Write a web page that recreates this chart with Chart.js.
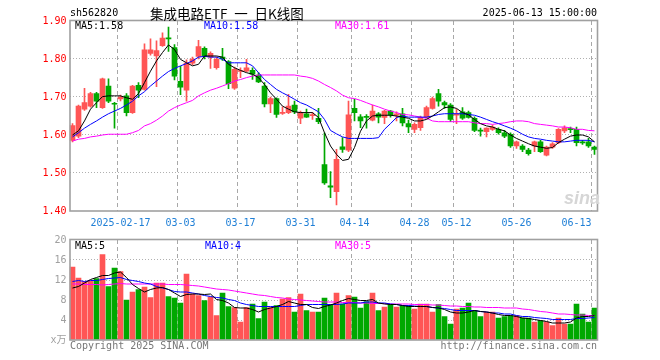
<!DOCTYPE html>
<html><head><meta charset="utf-8">
<script src="https://cdn.jsdelivr.net/npm/chart.js@4.4.1/dist/chart.umd.min.js"></script>
<style>
body{margin:0;background:#fff;width:660px;height:360px;overflow:hidden;position:relative;font-family:"DejaVu Sans Mono",monospace;}
canvas{position:absolute;left:0;}
.t{position:absolute;font-size:10px;line-height:12px;height:12px;white-space:pre;font-family:"DejaVu Sans Mono","Noto Sans CJK SC",monospace;}
</style></head><body>
<canvas id="pc" width="660" height="230" style="top:0"></canvas>
<canvas id="vc" width="660" height="130" style="top:230px"></canvas>
<div class="t" style="left:70px;top:7px;color:#000">sh562820</div>
<div class="t" style="left:150px;top:5px;height:16px;line-height:16px;font-size:13.5px;font-family:'Noto Sans CJK SC',sans-serif;color:#000">集成电路ETF&ensp;一&ensp;日K线图</div>
<div class="t" style="right:63px;top:7px;color:#000">2025-06-13 15:00:00</div>
<div class="t" style="left:75px;top:20px;color:#000">MA5:1.58</div>
<div class="t" style="left:204px;top:20px;color:#0000ff">MA10:1.58</div>
<div class="t" style="left:335px;top:20px;color:#ff00ff">MA30:1.61</div>
<div class="t" style="left:75px;top:240px;color:#000">MA5:5</div>
<div class="t" style="left:205px;top:240px;color:#0000ff">MA10:4</div>
<div class="t" style="left:335px;top:240px;color:#ff00ff">MA30:5</div>
<div class="t" style="left:70px;top:340px;color:#777">Copyright 2025 SINA.COM</div>
<div class="t" style="right:63px;top:340px;color:#777">http://finance.sina.com.cn</div>
<div class="t" style="left:564px;top:188px;height:20px;line-height:20px;font-size:18px;font-weight:bold;font-style:italic;font-family:'Liberation Sans',sans-serif;color:#d6d6d6">sina</div>
<script>
const dates = ['02-05','02-06','02-07','02-10','02-11','02-12','02-13','02-14','02-17','02-18','02-19','02-20','02-21','02-24','02-25','02-26','02-27','02-28',
'03-03','03-04','03-05','03-06','03-07','03-10','03-11','03-12','03-13','03-14','03-17','03-18','03-19','03-20','03-21','03-24','03-25','03-26','03-27','03-28','03-31',
'04-01','04-02','04-03','04-07','04-08','04-09','04-10','04-11','04-14','04-15','04-16','04-17','04-18','04-21','04-22','04-23','04-24','04-25','04-28','04-29','04-30',
'05-06','05-07','05-08','05-09','05-12','05-13','05-14','05-15','05-16','05-19','05-20','05-21','05-22','05-23','05-26','05-27','05-28','05-29','05-30',
'06-03','06-04','06-05','06-06','06-09','06-10','06-11','06-12','06-13'];
const tickDates = ['02-17','03-03','03-17','03-31','04-14','04-28','05-12','05-26','06-13'];
const tickTexts = ['2025-02-17','03-03','03-17','03-31','04-14','04-28','05-12','05-26','06-13'];
const priceTicks = [1.40,1.50,1.60,1.70,1.80,1.90];
const volTicks = [0,4,8,12,16,20];

const opens = [1.586,1.597,1.668,1.676,1.709,1.672,1.729,1.683,1.695,1.703,1.659,1.731,1.720,1.815,1.808,1.835,1.855,1.830,1.741,1.718,1.789,1.807,
1.828,1.805,1.777,1.805,1.793,1.723,1.767,1.768,1.770,1.758,1.729,1.682,1.696,1.657,1.659,1.679,1.644,1.656,1.651,1.644,1.522,1.466,
1.451,1.569,1.560,1.670,1.648,1.649,1.639,1.656,1.646,1.663,1.652,1.656,1.630,1.615,1.619,1.646,1.670,1.709,1.685,1.679,1.652,1.661,
1.659,1.644,1.612,1.609,1.615,1.615,1.606,1.602,1.571,1.571,1.560,1.571,1.582,1.547,1.568,1.580,1.611,1.616,1.615,1.582,1.582,1.568];
const highs = [1.630,1.679,1.723,1.712,1.712,1.750,1.748,1.686,1.705,1.709,1.731,1.738,1.840,1.853,1.848,1.869,1.884,1.838,1.781,1.798,1.805,1.849,
1.832,1.819,1.805,1.828,1.796,1.779,1.777,1.799,1.777,1.764,1.738,1.700,1.698,1.674,1.707,1.689,1.663,1.668,1.659,1.670,1.606,1.504,
1.562,1.593,1.689,1.694,1.654,1.654,1.679,1.659,1.665,1.665,1.661,1.670,1.639,1.632,1.650,1.676,1.700,1.720,1.689,1.683,1.668,1.672,
1.663,1.648,1.618,1.619,1.626,1.619,1.612,1.606,1.584,1.575,1.565,1.584,1.586,1.571,1.580,1.617,1.624,1.621,1.621,1.586,1.591,1.571];
const lows = [1.582,1.593,1.665,1.673,1.672,1.670,1.685,1.618,1.690,1.650,1.657,1.698,1.718,1.810,1.727,1.833,1.820,1.745,1.706,1.689,1.785,1.800,
1.800,1.775,1.773,1.796,1.722,1.720,1.751,1.766,1.746,1.738,1.674,1.659,1.646,1.654,1.656,1.656,1.630,1.646,1.641,1.630,1.470,1.435,
1.416,1.554,1.556,1.637,1.619,1.618,1.637,1.632,1.630,1.647,1.637,1.624,1.606,1.606,1.612,1.644,1.668,1.676,1.670,1.635,1.630,1.641,
1.644,1.609,1.597,1.595,1.612,1.602,1.593,1.567,1.565,1.556,1.547,1.556,1.554,1.545,1.565,1.577,1.606,1.606,1.571,1.575,1.567,1.549];
const closes = [1.625,1.676,1.685,1.709,1.689,1.748,1.689,1.681,1.700,1.659,1.729,1.718,1.824,1.824,1.822,1.855,1.853,1.755,1.726,1.789,1.800,1.833,
1.808,1.815,1.799,1.800,1.735,1.773,1.769,1.777,1.760,1.740,1.682,1.696,1.654,1.659,1.676,1.661,1.659,1.647,1.654,1.635,1.474,1.463,
1.536,1.562,1.653,1.659,1.637,1.646,1.663,1.647,1.663,1.653,1.656,1.632,1.621,1.628,1.646,1.672,1.696,1.689,1.679,1.641,1.655,1.644,
1.646,1.612,1.610,1.618,1.621,1.606,1.597,1.571,1.582,1.562,1.551,1.582,1.556,1.568,1.577,1.615,1.619,1.614,1.580,1.579,1.571,1.562];
const ma5 = [1.600,1.611,1.637,1.668,1.685,1.701,1.703,1.703,1.703,1.698,1.694,1.709,1.738,1.768,1.795,1.817,1.837,1.825,1.799,1.790,1.782,1.786,
1.808,1.808,1.808,1.805,1.786,1.777,1.770,1.764,1.760,1.751,1.733,1.711,1.694,1.676,1.668,1.661,1.659,1.659,1.659,1.646,1.606,1.571,
1.549,1.533,1.536,1.567,1.610,1.637,1.650,1.652,1.652,1.652,1.650,1.647,1.644,1.637,1.637,1.641,1.650,1.661,1.672,1.674,1.670,1.659,
1.653,1.641,1.630,1.624,1.621,1.615,1.611,1.600,1.591,1.584,1.577,1.571,1.568,1.565,1.567,1.580,1.589,1.597,1.600,1.600,1.595,1.582];
const ma10 = [1.595,1.606,1.618,1.628,1.637,1.647,1.656,1.663,1.670,1.679,1.689,1.703,1.714,1.729,1.742,1.755,1.767,1.775,1.782,1.788,1.795,1.805,
1.807,1.805,1.805,1.799,1.790,1.790,1.790,1.790,1.782,1.764,1.746,1.733,1.720,1.711,1.703,1.694,1.685,1.679,1.670,1.661,1.641,1.612,
1.603,1.595,1.591,1.591,1.591,1.591,1.591,1.593,1.615,1.630,1.646,1.650,1.647,1.647,1.647,1.647,1.650,1.654,1.656,1.656,1.656,1.656,
1.654,1.652,1.647,1.641,1.635,1.630,1.624,1.618,1.611,1.602,1.595,1.591,1.589,1.586,1.584,1.582,1.582,1.584,1.586,1.586,1.586,1.582];
const ma30 = [1.584,1.589,1.591,1.595,1.597,1.600,1.602,1.602,1.602,1.602,1.606,1.612,1.624,1.630,1.639,1.650,1.663,1.672,1.679,1.685,1.691,1.703,
1.711,1.718,1.723,1.729,1.735,1.742,1.746,1.751,1.755,1.758,1.758,1.758,1.758,1.758,1.758,1.758,1.755,1.753,1.749,1.742,1.733,1.725,
1.716,1.705,1.698,1.696,1.691,1.685,1.679,1.674,1.668,1.663,1.659,1.654,1.653,1.650,1.647,1.644,1.637,1.635,1.635,1.635,1.635,1.635,
1.635,1.632,1.630,1.630,1.628,1.630,1.632,1.635,1.637,1.637,1.635,1.630,1.628,1.626,1.624,1.621,1.621,1.619,1.615,1.615,1.612,1.611];
const volumes = [14.6,12.4,11.7,11.9,12.3,17.1,10.7,14.4,13.7,8.0,9.6,10.1,10.6,8.5,11.4,11.4,8.7,8.4,7.4,13.2,9.2,8.9,
7.9,8.6,4.9,9.4,6.7,6.5,3.6,6.5,7.2,4.3,7.6,6.5,6.9,8.2,8.5,5.6,9.2,5.9,5.6,5.6,8.4,7.1,
9.4,7.2,8.9,8.6,6.4,7.7,9.4,5.9,6.6,7.1,6.6,6.9,6.9,6.2,7.2,7.2,5.6,7.1,4.7,3.2,6.2,6.4,
7.4,5.9,4.7,5.6,5.6,4.4,4.7,4.9,4.9,4.4,4.4,3.6,3.9,3.6,2.9,4.4,3.2,3.2,7.2,5.2,3.6,6.4];
const volMa5 = [10.4,10.7,11.4,12.1,12.5,12.9,12.9,13.4,13.6,12.5,11.1,10.3,9.6,10.1,10.4,10.5,10.1,9.4,8.7,9.1,9.2,9.2,
9.1,9.2,8.1,7.9,7.4,6.5,6.4,6.4,6.1,5.6,6.1,6.4,6.7,7.1,7.7,7.4,7.1,7.1,6.5,6.3,6.7,7.0,
7.4,7.9,8.3,8.1,7.9,7.9,8.1,7.4,7.2,7.1,7.1,6.9,6.7,6.7,6.7,6.7,6.5,6.4,6.1,5.6,5.4,5.4,
5.6,5.9,5.7,5.6,5.4,5.1,4.9,4.9,4.7,4.4,4.3,4.1,3.9,3.7,3.4,3.4,3.4,3.6,4.4,4.7,4.7,4.9];
const volMa10 = [11.7,11.9,11.7,11.9,11.9,12.1,12.3,12.4,12.5,12.1,11.9,11.7,11.4,11.2,10.7,10.4,10.1,9.7,9.6,9.6,9.4,9.2,
8.9,8.7,8.5,8.4,8.1,7.9,7.4,7.1,6.9,6.7,6.7,6.7,6.7,6.7,6.7,6.7,6.9,7.1,7.1,7.1,7.1,7.1,
7.1,7.2,7.4,7.4,7.4,7.6,7.6,7.4,7.4,7.2,7.1,6.9,6.9,6.8,6.7,6.7,6.5,6.4,6.3,6.1,5.9,5.9,
5.9,5.9,5.7,5.6,5.4,5.4,5.2,5.2,4.9,4.7,4.7,4.5,4.4,4.3,4.1,4.1,4.1,4.1,4.3,4.3,4.4,4.5];
const volMa30 = [11.2,11.2,11.1,11.1,11.1,11.0,11.1,11.2,11.3,11.2,11.2,11.2,11.2,11.2,11.2,11.2,11.1,11.1,11.1,11.0,10.9,10.8,
10.6,10.4,10.2,10.1,10.0,9.8,9.6,9.4,9.2,9.0,8.9,8.7,8.5,8.4,8.2,8.1,8.0,7.9,7.8,7.7,7.6,7.6,
7.6,7.5,7.5,7.5,7.4,7.4,7.3,7.3,7.3,7.2,7.2,7.2,7.2,7.1,7.1,7.1,7.0,7.0,6.9,6.8,6.8,6.7,
6.7,6.6,6.6,6.5,6.5,6.5,6.4,6.4,6.4,6.2,6.1,5.9,5.7,5.6,5.4,5.2,5.2,5.1,5.0,5.0,4.9,4.9];

const RED = '#ff5555', GREEN = '#00a800';
const colors = closes.map((c, i) => c >= opens[i] ? RED : GREEN);
const MONO = "'DejaVu Sans Mono', 'Noto Sans CJK SC', monospace";
const CLEAR = 'rgba(0,0,0,0)';

const frame = {
  id: 'frame',
  afterDraw(chart) {
    const a = chart.chartArea, ctx = chart.ctx;
    ctx.save();
    ctx.strokeStyle = '#a0a0a0';
    ctx.lineWidth = 1.6;
    ctx.strokeRect(a.left + 0.5, a.top - 0.5, a.right - a.left - 0.5, a.bottom - a.top + 0.5);
    ctx.restore();
  }
};

function xAxis(showTicks, h) {
  return {
    type: 'category', offset: true,
    grid: { offset: true, drawTicks: false, lineWidth: 1,
      color: (c) => (c.index < dates.length && tickDates.includes(dates[c.index])) ? '#a8a8a8' : CLEAR },
    border: { display: false, dash: [4, 3] },
    ticks: { display: showTicks, autoSkip: false, maxRotation: 0, minRotation: 0, padding: 6,
      color: '#1f7fd6', font: { family: MONO, size: 10 },
      callback: (v, i) => {
        const k = tickDates.indexOf(dates[i]);
        if (k < 0) return '';
        return i === dates.length - 1 ? tickTexts[k] + '      ' : tickTexts[k];
      } },
    afterFit: (s) => { s.height = h; }
  };
}

function yAxis(ticksArr, color, fmt) {
  const lo = ticksArr[0], hi = ticksArr[ticksArr.length - 1];
  return {
    min: lo, max: hi, position: 'left',
    afterBuildTicks: (s) => { s.ticks = ticksArr.map(v => ({ value: v })); },
    ticks: { padding: 3, color: color, font: { family: MONO, size: 10 }, callback: fmt },
    grid: { drawTicks: false, lineWidth: 1,
      color: (c) => (c.tick && (Math.abs(c.tick.value - lo) < 1e-9 || Math.abs(c.tick.value - hi) < 1e-9)) ? CLEAR : '#b0b0b0' },
    border: { display: false, dash: [1, 2] },
    afterFit: (s) => { s.width = 69.5; }
  };
}

const common = {
  responsive: false, animation: false, devicePixelRatio: 1,
  plugins: { legend: { display: false }, tooltip: { enabled: false } },
  events: []
};

new Chart(document.getElementById('pc'), {
  type: 'bar',
  data: {
    labels: dates,
    datasets: [
      { type: 'line', data: ma5, borderColor: '#000000', borderWidth: 1, pointRadius: 0, tension: 0, order: 0 },
      { type: 'line', data: ma10, borderColor: '#0000ff', borderWidth: 1, pointRadius: 0, tension: 0, order: 0 },
      { type: 'line', data: ma30, borderColor: '#ff00ff', borderWidth: 1, pointRadius: 0, tension: 0, order: 0 },
      { type: 'bar', data: opens.map((o, i) => [o, closes[i]]), backgroundColor: colors, borderWidth: 0,
        barThickness: 5, grouped: false, minBarLength: 1, order: 1 },
      { type: 'bar', data: lows.map((l, i) => [l, highs[i]]), backgroundColor: colors, borderWidth: 0,
        barThickness: 1, grouped: false, order: 2 }
    ]
  },
  options: Object.assign({}, common, {
    layout: { padding: { left: 0, right: 62.5, top: 21, bottom: 0 } },
    scales: {
      x: xAxis(true, 19),
      y: yAxis(priceTicks, '#ff0000', (v) => Number(v).toFixed(2))
    }
  }),
  plugins: [frame]
});

new Chart(document.getElementById('vc'), {
  type: 'bar',
  data: {
    labels: dates,
    datasets: [
      { type: 'line', data: volMa5, borderColor: '#000000', borderWidth: 1, pointRadius: 0, tension: 0, order: 0 },
      { type: 'line', data: volMa10, borderColor: '#0000ff', borderWidth: 1, pointRadius: 0, tension: 0, order: 0 },
      { type: 'line', data: volMa30, borderColor: '#ff00ff', borderWidth: 1, pointRadius: 0, tension: 0, order: 0 },
      { type: 'bar', data: volumes, backgroundColor: colors, borderWidth: 0, barThickness: 5, grouped: false, order: 1 }
    ]
  },
  options: Object.assign({}, common, {
    layout: { padding: { left: 0, right: 62.5, top: 10, bottom: 0 } },
    scales: {
      x: xAxis(false, 20),
      y: yAxis(volTicks, '#a0a0a0', (v) => v === 0 ? 'x万' : String(v))
    }
  }),
  plugins: [frame]
});
</script>
</body></html>
